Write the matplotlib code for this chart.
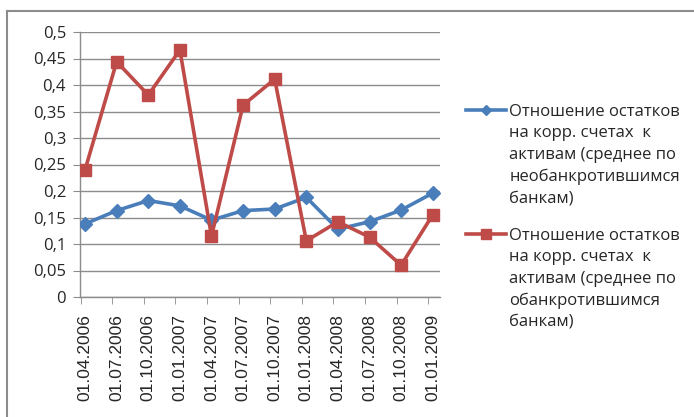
import matplotlib
matplotlib.use("Agg")
import matplotlib.pyplot as plt
from matplotlib.lines import Line2D

plt.rcParams['font.family'] = ['Open Sans', 'DejaVu Sans']

dates = ["01.04.2006", "01.07.2006", "01.10.2006", "01.01.2007",
         "01.04.2007", "01.07.2007", "01.10.2007", "01.01.2008",
         "01.04.2008", "01.07.2008", "01.10.2008", "01.01.2009"]
not_bankrupt = [0.138, 0.163, 0.182, 0.172, 0.145, 0.163,
                0.166, 0.188, 0.128, 0.142, 0.164, 0.196]
bankrupt = [0.240, 0.444, 0.381, 0.466, 0.115, 0.362,
            0.411, 0.106, 0.142, 0.113, 0.060, 0.155]
y_ticks = [0, 0.05, 0.1, 0.15, 0.2, 0.25, 0.3, 0.35, 0.4, 0.45, 0.5]
y_labels = ["0", "0,05", "0,1", "0,15", "0,2", "0,25", "0,3", "0,35", "0,4", "0,45", "0,5"]
label_blue = ("Отношение остатков\nна корр. счетах  к\nактивам (среднее по\n"
              "необанкротившимся\nбанкам)")
label_red = ("Отношение остатков\nна корр. счетах  к\nактивам (среднее по\n"
             "обанкротившимся\nбанкам)")

BLUE = "#4A7EBB"
RED = "#BE4B48"
GRID = "#8C8C8C"
TXT = "#262626"

fig = plt.figure(figsize=(6.94, 4.17), dpi=100)
ax = fig.add_axes([80 / 694, 1 - 297 / 417, 360 / 694, 265 / 417])

x = list(range(len(dates)))
ax.plot(x, not_bankrupt, color=BLUE, lw=2.6, marker="D", ms=7,
        mfc=BLUE, mec=BLUE, label=label_blue, zorder=3)
ax.plot(x, bankrupt, color=RED, lw=2.6, marker="s", ms=9,
        mfc=RED, mec=RED, label=label_red, zorder=4)

ax.set_xlim(-0.16, 11.23)
ax.set_ylim(0, 0.5)
ax.set_yticks(y_ticks)
ax.set_yticklabels(y_labels)
ax.yaxis.grid(True, color=GRID, lw=1.0)
ax.set_axisbelow(True)
ax.tick_params(axis="y", length=5, color=GRID, pad=5, labelsize=12, labelcolor=TXT)

ax.set_xticks(x)
ax.set_xticklabels(dates, rotation=90, fontfamily="Liberation Sans")
ax.tick_params(axis="x", which="major", length=0, pad=12, labelsize=12.5, labelcolor=TXT)
ax.set_xticks([i - 0.14 for i in x], minor=True)
ax.tick_params(axis="x", which="minor", length=5, color=GRID, direction="out")

for s in ["top", "right"]:
    ax.spines[s].set_visible(False)
for s in ["left", "bottom"]:
    ax.spines[s].set_color(GRID)
    ax.spines[s].set_linewidth(1.0)

leg = ax.legend(loc="upper left", bbox_to_anchor=(466 / 694, 1 - 104 / 417),
                bbox_transform=fig.transFigure, frameon=False, fontsize=12,
                handlelength=2.4, handletextpad=0.2, labelspacing=1.3,
                borderpad=0, borderaxespad=0, markerscale=0.8)
for t in leg.get_texts():
    t.set_color(TXT)
    t.set_linespacing(1.45)
for col in leg._legend_handle_box.get_children():
    for item in col.get_children():
        item.align = "top"

# outer chart frame (only top and left edges visible in the crop)
fig.add_artist(Line2D([7 / 694, 1], [1 - 10.5 / 417, 1 - 10.5 / 417],
                      transform=fig.transFigure, color="#8C8C8C", lw=1.5))
fig.add_artist(Line2D([7 / 694, 7 / 694], [0, 1 - 10.5 / 417],
                      transform=fig.transFigure, color="#8C8C8C", lw=1.5))

fig.savefig("out.png", dpi=100)
